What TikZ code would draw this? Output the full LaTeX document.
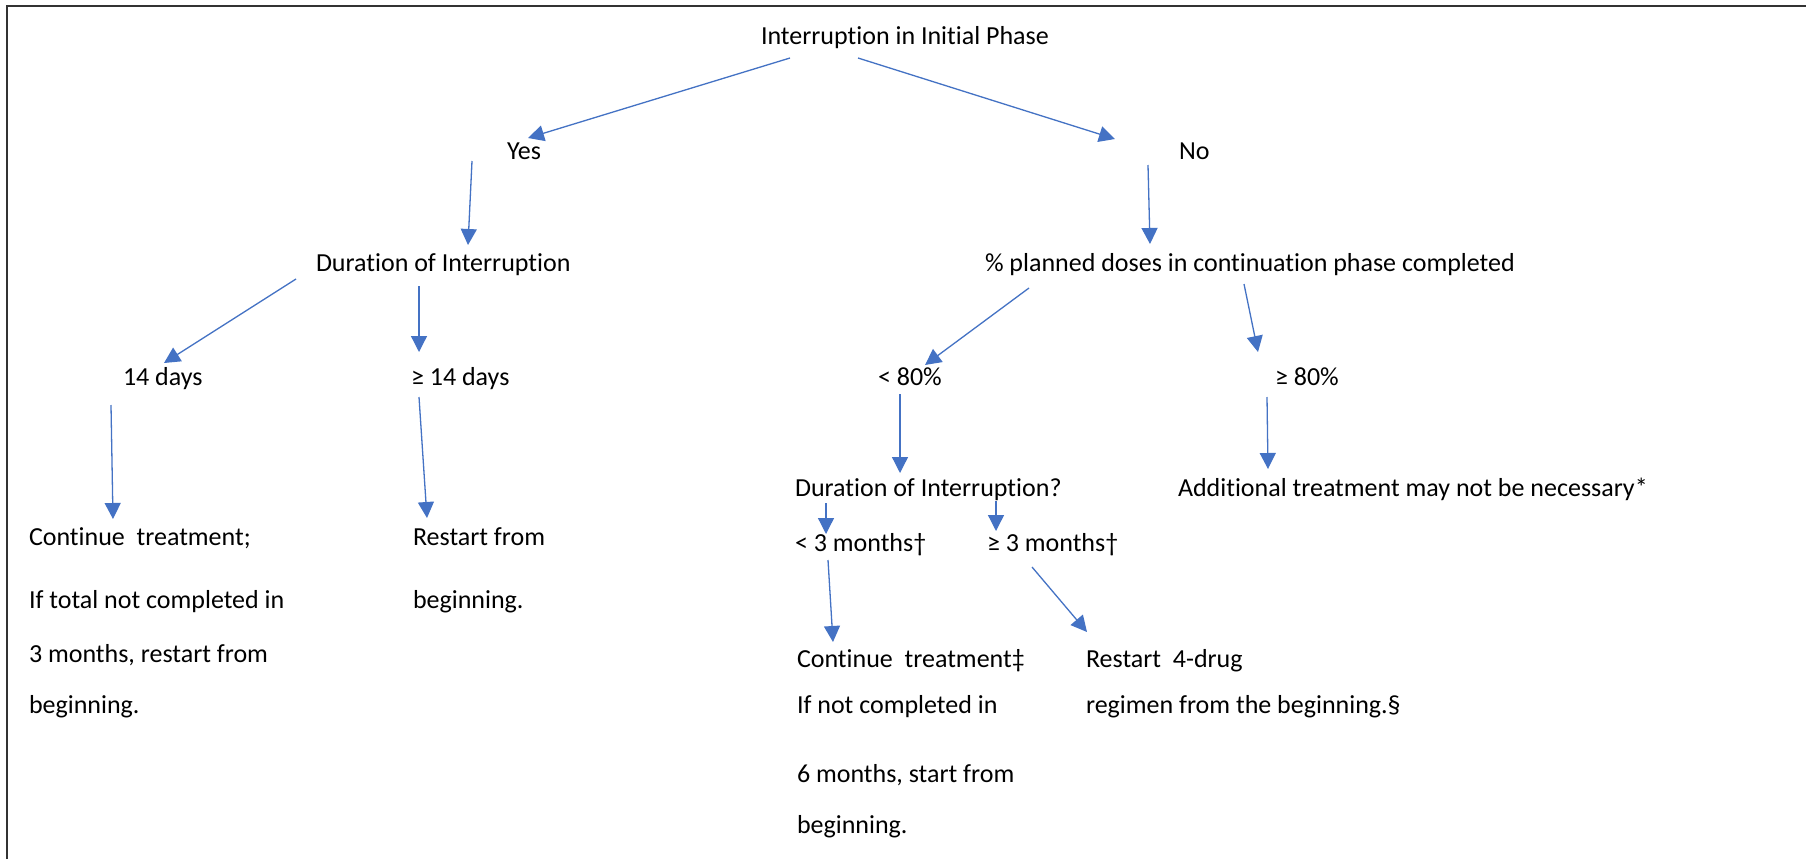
\documentclass[tikz,border=0pt]{standalone}
\usepackage{fontspec}
\setmainfont[RawFeature={-liga}]{Carlito}
\usetikzlibrary{arrows.meta}
\definecolor{arrblue}{HTML}{4472C4}
\definecolor{framegray}{HTML}{333333}
\tikzset{
  lbl/.style={anchor=base west, inner sep=0pt, outer sep=0pt, font=\fontsize{26}{30}\selectfont, text=black},
  arr/.style={draw=arrblue, line width=1.3pt, -{Triangle[width=16pt,length=16pt]}, arrblue},
  frame/.style={draw=framegray, line width=2pt}
}
\begin{document}
\begin{tikzpicture}[x=1pt,y=-1pt]
\useasboundingbox (0,0) rectangle (1806,859);
\fill[white] (0,0) rectangle (1806,859);
% frame (top and left edges)
\draw[frame] (7,859) -- (7,6) -- (1806,6);

% labels
\node[lbl] (root) at (761,45) {Interruption in Initial Phase};
\node[lbl] (yes) at (507,159) {Yes};
\node[lbl] (no) at (1179,159) {No};
\node[lbl] (dur) at (316,271) {Duration of Interruption};
\node[lbl] (pct) at (985,271) {\% planned doses in continuation phase completed};
\node[lbl] (d14) at (123,385) {14 days};
\node[lbl] (ge14) at (411,385) {≥ 14 days};
\node[lbl] (lt80) at (878,385) {< 80\%};
\node[lbl] (ge80) at (1275,385) {≥ 80\%};
\node[lbl] (dur2) at (795,496) {Duration of Interruption?};
\node[lbl] (add) at (1178,496) {Additional treatment may not be necessary*};
\node[lbl] (lt3) at (795,551) {< 3 months†};
\node[lbl] (ge3) at (987,551) {≥ 3 months†};

\node[lbl] (cont) at (29,545) {Continue\ \ treatment;};
\node[lbl] (contb) at (29,608) {If total not completed in};
\node[lbl] (contc) at (29,662) {3 months, restart from};
\node[lbl] (contd) at (29,713) {beginning.};

\node[lbl] (rest) at (413,545) {Restart from};
\node[lbl] (restb) at (413,608) {beginning.};

\node[lbl] (conttwo) at (797,667) {Continue\ \ treatment‡};
\node[lbl] (conttwob) at (797,713) {If not completed in};
\node[lbl] (conttwoc) at (797,782) {6 months, start from};
\node[lbl] (conttwod) at (797,833) {beginning.};

\node[lbl] (restfour) at (1086,667) {Restart\ \ 4-drug};
\node[lbl] (restfourb) at (1086,713) {regimen from the beginning.§};

% connector end points
\coordinate (a1s) at (790,58);   \coordinate (a1e) at (528,138);
\coordinate (a2s) at (858,58);   \coordinate (a2e) at (1115,139);
\coordinate (a3s) at (472,161);  \coordinate (a3e) at (468,245);
\coordinate (a4s) at (1148,165); \coordinate (a4e) at (1150,244);
\coordinate (a5s) at (296,279);  \coordinate (a5e) at (164,363);
\coordinate (a6s) at (419,286);  \coordinate (a6e) at (419,352);
\coordinate (a7s) at (1029,288); \coordinate (a7e) at (925,365);
\coordinate (a8s) at (1244,284); \coordinate (a8e) at (1258,352);
\coordinate (a9s) at (111,405);  \coordinate (a9e) at (113,519);
\coordinate (a10s) at (419,397); \coordinate (a10e) at (427,518);
\coordinate (a11s) at (900,394); \coordinate (a11e) at (900,473);
\coordinate (a12s) at (1267,397);\coordinate (a12e) at (1268,469);
\coordinate (a13s) at (826,503); \coordinate (a13e) at (826,534);
\coordinate (a14s) at (996,501); \coordinate (a14e) at (996,531);
\coordinate (a15s) at (828,560); \coordinate (a15e) at (833,642);
\coordinate (a16s) at (1032,567);\coordinate (a16e) at (1087,632);

\draw[arr] (a1s) -- (a1e);
\draw[arr] (a2s) -- (a2e);
\draw[arr] (a3s) -- (a3e);
\draw[arr] (a4s) -- (a4e);
\draw[arr] (a5s) -- (a5e);
\draw[arr] (a6s) -- (a6e);
\draw[arr] (a7s) -- (a7e);
\draw[arr] (a8s) -- (a8e);
\draw[arr] (a9s) -- (a9e);
\draw[arr] (a10s) -- (a10e);
\draw[arr] (a11s) -- (a11e);
\draw[arr] (a12s) -- (a12e);
\draw[arr] (a13s) -- (a13e);
\draw[arr] (a14s) -- (a14e);
\draw[arr] (a15s) -- (a15e);
\draw[arr] (a16s) -- (a16e);
\end{tikzpicture}
\end{document}
